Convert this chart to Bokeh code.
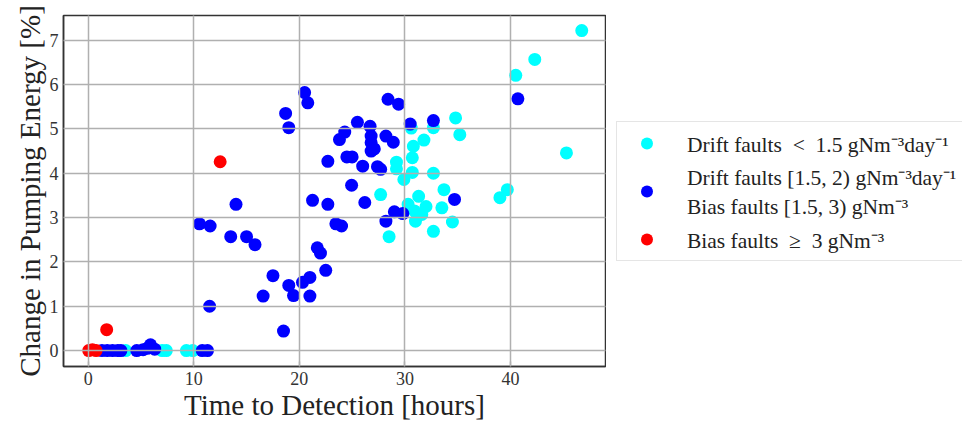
from bokeh.plotting import figure
from bokeh.models import Legend, LegendItem, Range1d
from bokeh.layouts import row
from bokeh.embed import file_html
from bokeh.resources import INLINE

# Drift faults < 1.5 gNm-3 day-1 (cyan)
cyan_x = [3.55, 7.0, 7.4, 9.3, 9.9,
          27.7, 28.5, 29.2, 29.2, 29.9, 30.3, 30.6, 30.7, 30.8, 30.7, 30.9, 31.0,
          31.3, 31.6, 31.8, 32.0, 32.7, 32.7, 32.7, 33.5, 33.7, 34.5, 34.8, 35.2,
          39.0, 39.7, 40.5, 42.3, 45.3, 46.75]
cyan_y = [0.0, 0.0, 0.0, 0.0, 0.0,
          3.52, 2.57, 4.25, 4.10, 3.86, 3.30, 5.02, 4.35, 4.61, 4.02, 3.15, 2.92,
          3.48, 3.07, 4.75, 3.25, 5.03, 4.00, 2.69, 3.22, 3.63, 2.90, 5.25, 4.87,
          3.45, 3.63, 6.21, 6.57, 4.46, 7.22]

# Drift faults [1.5, 2) / Bias faults [1.5, 3) (blue)
blue_x = [1.3, 1.8, 2.3, 2.8, 3.1, 4.6, 5.2, 5.6, 5.9, 6.3, 10.8, 11.3,
          10.54, 11.55, 11.5, 13.5, 14.0, 15.0, 15.8, 16.57, 17.5, 18.5, 18.7, 19.0,
          19.0, 19.45, 20.3, 20.5, 20.8, 21.0, 21.0, 21.25, 21.7, 22.0, 22.5, 22.7,
          22.7, 23.46, 24.0, 23.8, 24.3, 24.5, 25.0, 24.95, 25.5, 26.0, 26.2, 26.7,
          26.8, 26.8, 27.1, 26.8, 27.4, 27.7, 28.2, 28.9, 28.4, 29.4, 28.2, 29.0,
          29.8, 30.5, 32.7, 34.7, 40.7]
blue_y = [0.0, 0.0, 0.0, 0.0, 0.0, 0.0, 0.02, 0.05, 0.13, 0.03, 0.0, 0.0,
          2.86, 2.81, 1.00, 2.57, 3.30, 2.57, 2.39, 1.23, 1.69, 0.44, 5.35, 5.03,
          1.47, 1.24, 1.54, 5.82, 5.59, 1.65, 1.23, 3.39, 2.32, 2.20, 1.81, 3.30,
          4.27, 2.86, 2.81, 4.76, 4.93, 4.37, 4.37, 3.73, 5.15, 4.16, 3.34, 5.06,
          4.84, 4.69, 4.55, 4.50, 4.15, 4.09, 4.84, 4.70, 5.67, 5.56, 2.92, 3.13,
          3.09, 5.11, 5.19, 3.41, 5.68]

# Bias faults >= 3 gNm-3 (red)
red_x = [0.05, 0.4, 0.75, 1.75, 12.5]
red_y = [0.0, 0.02, 0.0, 0.47, 4.26]

x_ticks = [0, 10, 20, 30, 40]
y_ticks = [0, 1, 2, 3, 4, 5, 6, 7]

labels = ["Drift faults\u2002<\u20021.5 gNm\u207b\u00b3day\u207b\u00b9",
          "Drift faults [1.5, 2) gNm\u207b\u00b3day\u207b\u00b9\nBias faults [1.5, 3) gNm\u207b\u00b3",
          "Bias faults\u2002\u2265\u20023 gNm\u207b\u00b3"]
colors = ["#00ffff", "#0000ff", "#ff0000"]
series = [(cyan_x, cyan_y), (blue_x, blue_y), (red_x, red_y)]

FONT = "Liberation Serif"

p = figure(width=606, height=423, output_backend="svg", toolbar_location=None,
           x_range=Range1d(-2.34, 49.0), y_range=Range1d(-0.36, 7.56),
           min_border_left=63, min_border_right=1, min_border_top=15,
           min_border_bottom=56, background_fill_color="white",
           border_fill_color="white")

for (sx, sy), col in zip(series, colors):
    p.scatter(sx, sy, size=13, fill_color=col, line_color=None)

p.xaxis.ticker = x_ticks
p.yaxis.ticker = y_ticks
p.xgrid.ticker = x_ticks
p.ygrid.ticker = y_ticks
p.grid.grid_line_color = "#b0b0b0"
p.grid.grid_line_width = 1.5
p.grid.level = "overlay"

p.xaxis.axis_label = "Time to Detection [hours]"
p.yaxis.axis_label = "Change in Pumping Energy [%]"
for ax in (p.xaxis[0], p.yaxis[0]):
    ax.major_label_text_font = FONT
    ax.major_label_text_font_size = "18px"
    ax.major_label_text_color = "#333333"
    ax.axis_label_text_font = FONT
    ax.axis_label_text_font_size = "29px"
    ax.axis_label_text_font_style = "normal"
    ax.axis_label_text_color = "#222222"
    ax.major_tick_in = 5
    ax.major_tick_out = 0
    ax.minor_tick_line_color = None
    ax.axis_line_color = "#333333"
    ax.axis_line_width = 1.5
    ax.major_tick_line_color = "#333333"
    ax.major_tick_line_width = 1.2
    ax.axis_label_standoff = 1
    ax.major_label_standoff = 5

p.outline_line_color = "#333333"
p.outline_line_width = 1.5
p.outline_line_alpha = 1.0

# legend panel (separate figure to the right of the axes; its view range
# shows none of the points, only the legend)
q = figure(width=356, height=423, output_backend="svg", toolbar_location=None,
           x_axis_type=None, y_axis_type=None, min_border=0,
           x_range=Range1d(-1000, -999), y_range=Range1d(-1000, -999),
           outline_line_color=None, background_fill_color="white",
           border_fill_color="white")
items = []
for lab, col, (sx, sy) in zip(labels, colors, series):
    rr = q.scatter(sx, sy, size=13, fill_color=col, line_color=None)
    items.append(LegendItem(label=lab, renderers=[rr]))

legend = Legend(items=items, location=(10, 105))
legend.label_text_font = FONT
legend.label_text_font_size = "21.5px"
legend.label_text_color = "#222222"
legend.label_text_line_height = 1.25
legend.border_line_color = "#cccccc"
legend.border_line_width = 1.2
legend.background_fill_color = "white"
legend.background_fill_alpha = 1.0
legend.padding = 6
legend.spacing = 4
legend.margin = 0
legend.glyph_width = 47
legend.glyph_height = 30
legend.label_standoff = 17
legend.label_width = 300
q.add_layout(legend, "center")

open("out.html", "w").write(file_html(row(p, q), INLINE))
